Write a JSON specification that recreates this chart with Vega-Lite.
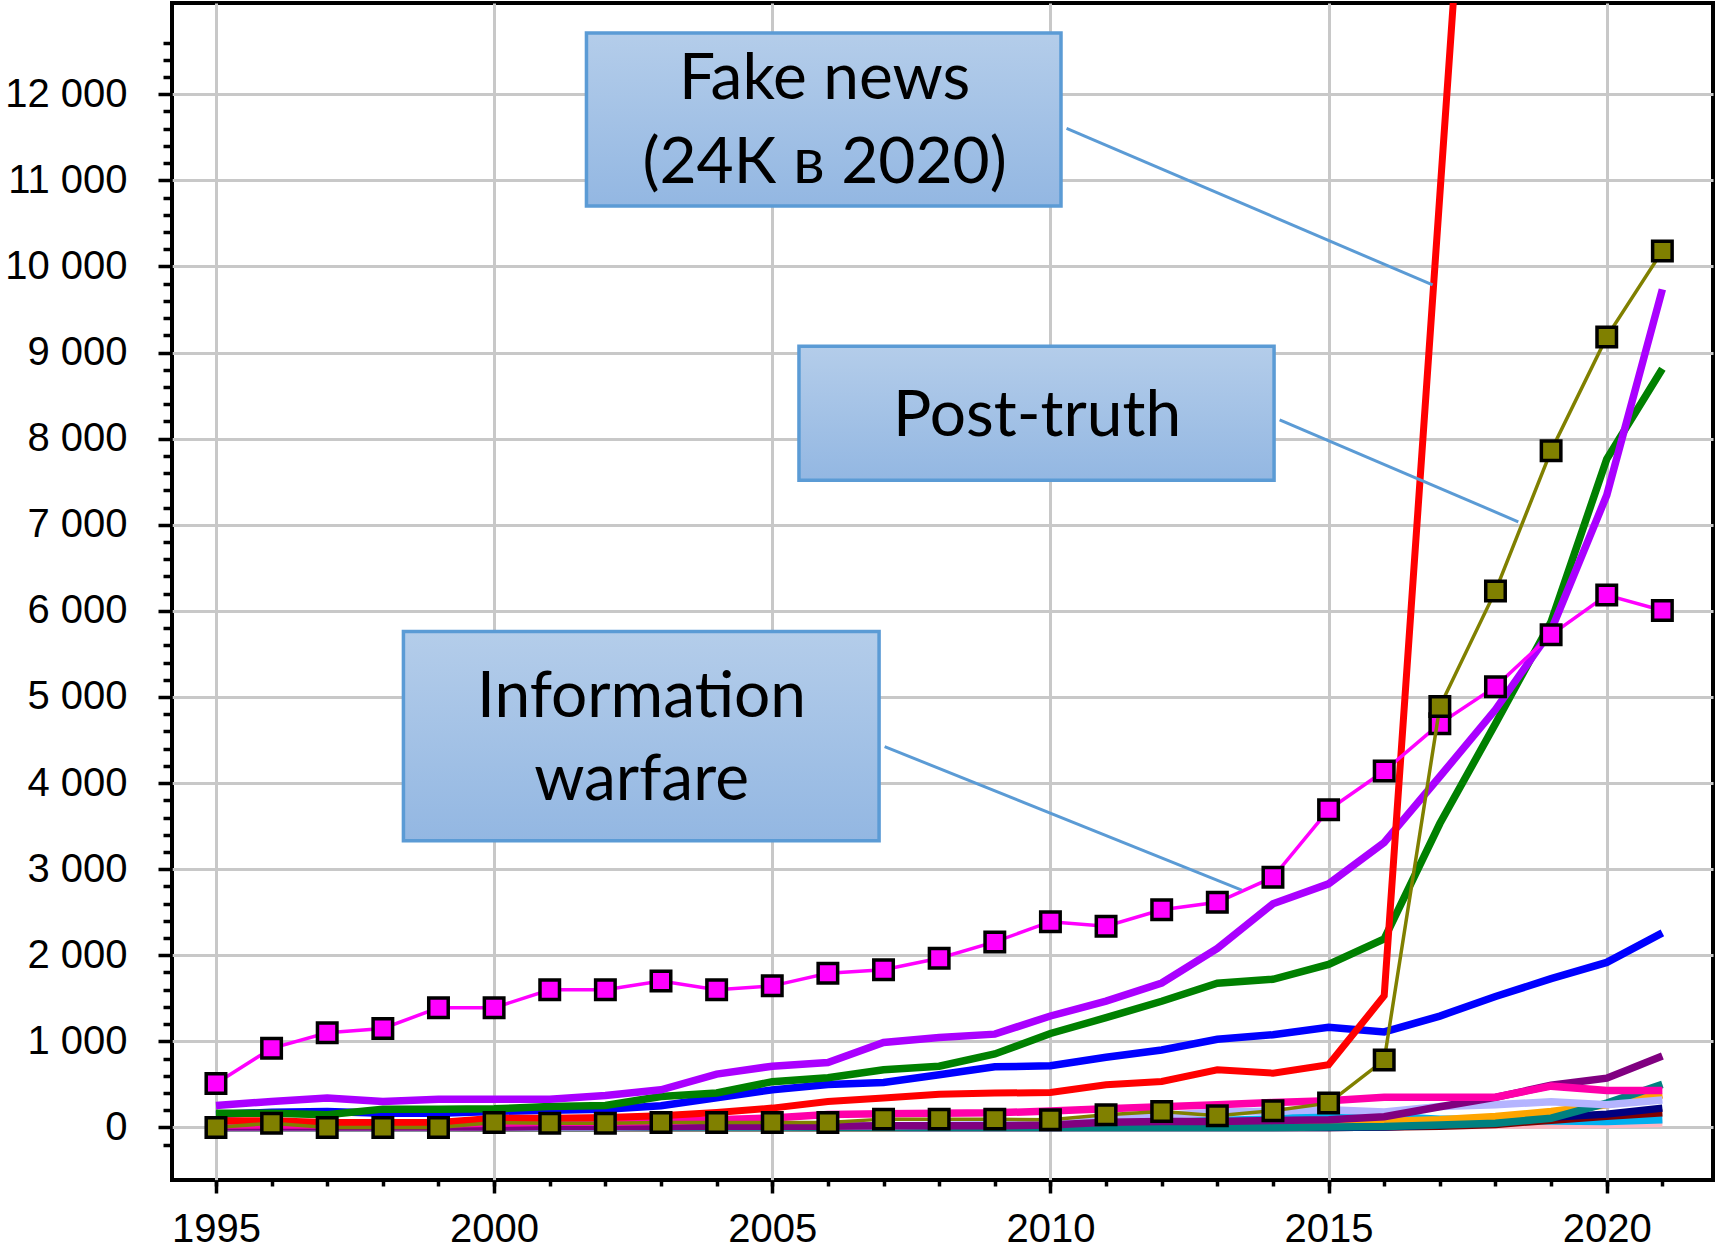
{
  "$schema": "https://vega.github.io/schema/vega-lite/v6.json",
  "width": 1541,
  "height": 1177,
  "autosize": {"type": "none"},
  "padding": {"left": 172, "top": 3, "right": 6, "bottom": 73},
  "background": "white",
  "config": {"view": {"stroke": "black", "strokeWidth": 4}},
  "datasets": {
    "lines": [
      {"s":"t01","year":1995,"v":0},{"s":"t01","year":1996,"v":0},{"s":"t01","year":1997,"v":0},{"s":"t01","year":1998,"v":0},{"s":"t01","year":1999,"v":0},{"s":"t01","year":2000,"v":0},{"s":"t01","year":2001,"v":0},{"s":"t01","year":2002,"v":0},{"s":"t01","year":2003,"v":0},{"s":"t01","year":2004,"v":0},{"s":"t01","year":2005,"v":0},{"s":"t01","year":2006,"v":0},{"s":"t01","year":2007,"v":0},{"s":"t01","year":2008,"v":0},{"s":"t01","year":2009,"v":0},{"s":"t01","year":2010,"v":0},{"s":"t01","year":2011,"v":5},{"s":"t01","year":2012,"v":5},{"s":"t01","year":2013,"v":10},{"s":"t01","year":2014,"v":10},{"s":"t01","year":2015,"v":10},{"s":"t01","year":2016,"v":15},{"s":"t01","year":2017,"v":20},{"s":"t01","year":2018,"v":25},{"s":"t01","year":2019,"v":30},{"s":"t01","year":2020,"v":35},{"s":"t01","year":2021,"v":50},
      {"s":"t02","year":1995,"v":0},{"s":"t02","year":1996,"v":0},{"s":"t02","year":1997,"v":0},{"s":"t02","year":1998,"v":0},{"s":"t02","year":1999,"v":0},{"s":"t02","year":2000,"v":0},{"s":"t02","year":2001,"v":0},{"s":"t02","year":2002,"v":0},{"s":"t02","year":2003,"v":5},{"s":"t02","year":2004,"v":5},{"s":"t02","year":2005,"v":10},{"s":"t02","year":2006,"v":10},{"s":"t02","year":2007,"v":15},{"s":"t02","year":2008,"v":20},{"s":"t02","year":2009,"v":20},{"s":"t02","year":2010,"v":25},{"s":"t02","year":2011,"v":40},{"s":"t02","year":2012,"v":60},{"s":"t02","year":2013,"v":80},{"s":"t02","year":2014,"v":100},{"s":"t02","year":2015,"v":140},{"s":"t02","year":2016,"v":130},{"s":"t02","year":2017,"v":95},{"s":"t02","year":2018,"v":95},{"s":"t02","year":2019,"v":75},{"s":"t02","year":2020,"v":70},{"s":"t02","year":2021,"v":90},
      {"s":"t03","year":1995,"v":0},{"s":"t03","year":1996,"v":0},{"s":"t03","year":1997,"v":0},{"s":"t03","year":1998,"v":0},{"s":"t03","year":1999,"v":0},{"s":"t03","year":2000,"v":0},{"s":"t03","year":2001,"v":0},{"s":"t03","year":2002,"v":0},{"s":"t03","year":2003,"v":0},{"s":"t03","year":2004,"v":0},{"s":"t03","year":2005,"v":0},{"s":"t03","year":2006,"v":0},{"s":"t03","year":2007,"v":0},{"s":"t03","year":2008,"v":0},{"s":"t03","year":2009,"v":0},{"s":"t03","year":2010,"v":0},{"s":"t03","year":2011,"v":0},{"s":"t03","year":2012,"v":0},{"s":"t03","year":2013,"v":0},{"s":"t03","year":2014,"v":0},{"s":"t03","year":2015,"v":0},{"s":"t03","year":2016,"v":5},{"s":"t03","year":2017,"v":15},{"s":"t03","year":2018,"v":35},{"s":"t03","year":2019,"v":85},{"s":"t03","year":2020,"v":130},{"s":"t03","year":2021,"v":170},
      {"s":"t04","year":1995,"v":0},{"s":"t04","year":1996,"v":0},{"s":"t04","year":1997,"v":0},{"s":"t04","year":1998,"v":0},{"s":"t04","year":1999,"v":0},{"s":"t04","year":2000,"v":0},{"s":"t04","year":2001,"v":0},{"s":"t04","year":2002,"v":0},{"s":"t04","year":2003,"v":0},{"s":"t04","year":2004,"v":0},{"s":"t04","year":2005,"v":0},{"s":"t04","year":2006,"v":0},{"s":"t04","year":2007,"v":0},{"s":"t04","year":2008,"v":0},{"s":"t04","year":2009,"v":0},{"s":"t04","year":2010,"v":0},{"s":"t04","year":2011,"v":0},{"s":"t04","year":2012,"v":0},{"s":"t04","year":2013,"v":0},{"s":"t04","year":2014,"v":0},{"s":"t04","year":2015,"v":0},{"s":"t04","year":2016,"v":5},{"s":"t04","year":2017,"v":30},{"s":"t04","year":2018,"v":80},{"s":"t04","year":2019,"v":120},{"s":"t04","year":2020,"v":155},{"s":"t04","year":2021,"v":225},
      {"s":"t05","year":1995,"v":0},{"s":"t05","year":1996,"v":0},{"s":"t05","year":1997,"v":0},{"s":"t05","year":1998,"v":0},{"s":"t05","year":1999,"v":0},{"s":"t05","year":2000,"v":0},{"s":"t05","year":2001,"v":0},{"s":"t05","year":2002,"v":0},{"s":"t05","year":2003,"v":0},{"s":"t05","year":2004,"v":0},{"s":"t05","year":2005,"v":0},{"s":"t05","year":2006,"v":0},{"s":"t05","year":2007,"v":0},{"s":"t05","year":2008,"v":5},{"s":"t05","year":2009,"v":5},{"s":"t05","year":2010,"v":10},{"s":"t05","year":2011,"v":15},{"s":"t05","year":2012,"v":20},{"s":"t05","year":2013,"v":25},{"s":"t05","year":2014,"v":30},{"s":"t05","year":2015,"v":50},{"s":"t05","year":2016,"v":70},{"s":"t05","year":2017,"v":90},{"s":"t05","year":2018,"v":128},{"s":"t05","year":2019,"v":186},{"s":"t05","year":2020,"v":263},{"s":"t05","year":2021,"v":380},
      {"s":"t06","year":1995,"v":0},{"s":"t06","year":1996,"v":0},{"s":"t06","year":1997,"v":0},{"s":"t06","year":1998,"v":0},{"s":"t06","year":1999,"v":0},{"s":"t06","year":2000,"v":0},{"s":"t06","year":2001,"v":0},{"s":"t06","year":2002,"v":0},{"s":"t06","year":2003,"v":0},{"s":"t06","year":2004,"v":0},{"s":"t06","year":2005,"v":0},{"s":"t06","year":2006,"v":0},{"s":"t06","year":2007,"v":0},{"s":"t06","year":2008,"v":0},{"s":"t06","year":2009,"v":0},{"s":"t06","year":2010,"v":0},{"s":"t06","year":2011,"v":0},{"s":"t06","year":2012,"v":0},{"s":"t06","year":2013,"v":0},{"s":"t06","year":2014,"v":0},{"s":"t06","year":2015,"v":5},{"s":"t06","year":2016,"v":10},{"s":"t06","year":2017,"v":30},{"s":"t06","year":2018,"v":50},{"s":"t06","year":2019,"v":108},{"s":"t06","year":2020,"v":283},{"s":"t06","year":2021,"v":500},
      {"s":"t07","year":1995,"v":0},{"s":"t07","year":1996,"v":0},{"s":"t07","year":1997,"v":0},{"s":"t07","year":1998,"v":0},{"s":"t07","year":1999,"v":0},{"s":"t07","year":2000,"v":5},{"s":"t07","year":2001,"v":5},{"s":"t07","year":2002,"v":5},{"s":"t07","year":2003,"v":10},{"s":"t07","year":2004,"v":10},{"s":"t07","year":2005,"v":10},{"s":"t07","year":2006,"v":15},{"s":"t07","year":2007,"v":20},{"s":"t07","year":2008,"v":25},{"s":"t07","year":2009,"v":35},{"s":"t07","year":2010,"v":50},{"s":"t07","year":2011,"v":90},{"s":"t07","year":2012,"v":140},{"s":"t07","year":2013,"v":180},{"s":"t07","year":2014,"v":190},{"s":"t07","year":2015,"v":205},{"s":"t07","year":2016,"v":180},{"s":"t07","year":2017,"v":244},{"s":"t07","year":2018,"v":263},{"s":"t07","year":2019,"v":300},{"s":"t07","year":2020,"v":263},{"s":"t07","year":2021,"v":320},
      {"s":"t08","year":1995,"v":5},{"s":"t08","year":1996,"v":5},{"s":"t08","year":1997,"v":5},{"s":"t08","year":1998,"v":5},{"s":"t08","year":1999,"v":5},{"s":"t08","year":2000,"v":5},{"s":"t08","year":2001,"v":10},{"s":"t08","year":2002,"v":10},{"s":"t08","year":2003,"v":10},{"s":"t08","year":2004,"v":15},{"s":"t08","year":2005,"v":15},{"s":"t08","year":2006,"v":15},{"s":"t08","year":2007,"v":20},{"s":"t08","year":2008,"v":20},{"s":"t08","year":2009,"v":20},{"s":"t08","year":2010,"v":30},{"s":"t08","year":2011,"v":60},{"s":"t08","year":2012,"v":70},{"s":"t08","year":2013,"v":70},{"s":"t08","year":2014,"v":80},{"s":"t08","year":2015,"v":90},{"s":"t08","year":2016,"v":125},{"s":"t08","year":2017,"v":240},{"s":"t08","year":2018,"v":350},{"s":"t08","year":2019,"v":490},{"s":"t08","year":2020,"v":573},{"s":"t08","year":2021,"v":830},
      {"s":"t09","year":1995,"v":30},{"s":"t09","year":1996,"v":30},{"s":"t09","year":1997,"v":30},{"s":"t09","year":1998,"v":40},{"s":"t09","year":1999,"v":40},{"s":"t09","year":2000,"v":50},{"s":"t09","year":2001,"v":60},{"s":"t09","year":2002,"v":60},{"s":"t09","year":2003,"v":70},{"s":"t09","year":2004,"v":90},{"s":"t09","year":2005,"v":110},{"s":"t09","year":2006,"v":150},{"s":"t09","year":2007,"v":160},{"s":"t09","year":2008,"v":165},{"s":"t09","year":2009,"v":170},{"s":"t09","year":2010,"v":190},{"s":"t09","year":2011,"v":217},{"s":"t09","year":2012,"v":240},{"s":"t09","year":2013,"v":263},{"s":"t09","year":2014,"v":290},{"s":"t09","year":2015,"v":310},{"s":"t09","year":2016,"v":350},{"s":"t09","year":2017,"v":352},{"s":"t09","year":2018,"v":352},{"s":"t09","year":2019,"v":480},{"s":"t09","year":2020,"v":430},{"s":"t09","year":2021,"v":430},
      {"s":"t10","year":1995,"v":150},{"s":"t10","year":1996,"v":178},{"s":"t10","year":1997,"v":186},{"s":"t10","year":1998,"v":166},{"s":"t10","year":1999,"v":166},{"s":"t10","year":2000,"v":186},{"s":"t10","year":2001,"v":200},{"s":"t10","year":2002,"v":213},{"s":"t10","year":2003,"v":252},{"s":"t10","year":2004,"v":345},{"s":"t10","year":2005,"v":437},{"s":"t10","year":2006,"v":500},{"s":"t10","year":2007,"v":523},{"s":"t10","year":2008,"v":612},{"s":"t10","year":2009,"v":705},{"s":"t10","year":2010,"v":716},{"s":"t10","year":2011,"v":815},{"s":"t10","year":2012,"v":900},{"s":"t10","year":2013,"v":1025},{"s":"t10","year":2014,"v":1077},{"s":"t10","year":2015,"v":1165},{"s":"t10","year":2016,"v":1110},{"s":"t10","year":2017,"v":1294},{"s":"t10","year":2018,"v":1521},{"s":"t10","year":2019,"v":1728},{"s":"t10","year":2020,"v":1917},{"s":"t10","year":2021,"v":2260},
      {"s":"t11","year":1995,"v":166},{"s":"t11","year":1996,"v":166},{"s":"t11","year":1997,"v":147},{"s":"t11","year":1998,"v":213},{"s":"t11","year":1999,"v":213},{"s":"t11","year":2000,"v":217},{"s":"t11","year":2001,"v":244},{"s":"t11","year":2002,"v":255},{"s":"t11","year":2003,"v":360},{"s":"t11","year":2004,"v":400},{"s":"t11","year":2005,"v":532},{"s":"t11","year":2006,"v":578},{"s":"t11","year":2007,"v":670},{"s":"t11","year":2008,"v":712},{"s":"t11","year":2009,"v":854},{"s":"t11","year":2010,"v":1092},{"s":"t11","year":2011,"v":1275},{"s":"t11","year":2012,"v":1466},{"s":"t11","year":2013,"v":1676},{"s":"t11","year":2014,"v":1721},{"s":"t11","year":2015,"v":1893},{"s":"t11","year":2016,"v":2190},{"s":"t11","year":2017,"v":3530},{"s":"t11","year":2018,"v":4690},{"s":"t11","year":2019,"v":5873},{"s":"t11","year":2020,"v":7763},{"s":"t11","year":2021,"v":8812},
      {"s":"t12","year":1995,"v":255},{"s":"t12","year":1996,"v":302},{"s":"t12","year":1997,"v":341},{"s":"t12","year":1998,"v":302},{"s":"t12","year":1999,"v":329},{"s":"t12","year":2000,"v":329},{"s":"t12","year":2001,"v":329},{"s":"t12","year":2002,"v":372},{"s":"t12","year":2003,"v":437},{"s":"t12","year":2004,"v":620},{"s":"t12","year":2005,"v":712},{"s":"t12","year":2006,"v":755},{"s":"t12","year":2007,"v":988},{"s":"t12","year":2008,"v":1046},{"s":"t12","year":2009,"v":1084},{"s":"t12","year":2010,"v":1295},{"s":"t12","year":2011,"v":1467},{"s":"t12","year":2012,"v":1678},{"s":"t12","year":2013,"v":2080},{"s":"t12","year":2014,"v":2598},{"s":"t12","year":2015,"v":2830},{"s":"t12","year":2016,"v":3310},{"s":"t12","year":2017,"v":4076},{"s":"t12","year":2018,"v":4854},{"s":"t12","year":2019,"v":5774},{"s":"t12","year":2020,"v":7343},{"s":"t12","year":2021,"v":9734},
      {"s":"Fake news","year":1995,"v":77},{"s":"Fake news","year":1996,"v":77},{"s":"Fake news","year":1997,"v":58},{"s":"Fake news","year":1998,"v":58},{"s":"Fake news","year":1999,"v":58},{"s":"Fake news","year":2000,"v":108},{"s":"Fake news","year":2001,"v":108},{"s":"Fake news","year":2002,"v":115},{"s":"Fake news","year":2003,"v":135},{"s":"Fake news","year":2004,"v":174},{"s":"Fake news","year":2005,"v":225},{"s":"Fake news","year":2006,"v":302},{"s":"Fake news","year":2007,"v":341},{"s":"Fake news","year":2008,"v":387},{"s":"Fake news","year":2009,"v":399},{"s":"Fake news","year":2010,"v":406},{"s":"Fake news","year":2011,"v":495},{"s":"Fake news","year":2012,"v":534},{"s":"Fake news","year":2013,"v":670},{"s":"Fake news","year":2014,"v":631},{"s":"Fake news","year":2015,"v":728},{"s":"Fake news","year":2016,"v":1530},{"s":"Fake news","year":2017,"v":10830},{"s":"Fake news","year":2018,"v":20100},{"s":"Fake news","year":2019,"v":22500},{"s":"Fake news","year":2020,"v":24000},{"s":"Fake news","year":2021,"v":24500},
      {"s":"Information warfare","year":1995,"v":510},{"s":"Information warfare","year":1996,"v":920},{"s":"Information warfare","year":1997,"v":1100},{"s":"Information warfare","year":1998,"v":1150},{"s":"Information warfare","year":1999,"v":1390},{"s":"Information warfare","year":2000,"v":1390},{"s":"Information warfare","year":2001,"v":1600},{"s":"Information warfare","year":2002,"v":1600},{"s":"Information warfare","year":2003,"v":1700},{"s":"Information warfare","year":2004,"v":1600},{"s":"Information warfare","year":2005,"v":1645},{"s":"Information warfare","year":2006,"v":1790},{"s":"Information warfare","year":2007,"v":1831},{"s":"Information warfare","year":2008,"v":1965},{"s":"Information warfare","year":2009,"v":2155},{"s":"Information warfare","year":2010,"v":2390},{"s":"Information warfare","year":2011,"v":2337},{"s":"Information warfare","year":2012,"v":2528},{"s":"Information warfare","year":2013,"v":2615},{"s":"Information warfare","year":2014,"v":2905},{"s":"Information warfare","year":2015,"v":3690},{"s":"Information warfare","year":2016,"v":4140},{"s":"Information warfare","year":2017,"v":4690},{"s":"Information warfare","year":2018,"v":5120},{"s":"Information warfare","year":2019,"v":5722},{"s":"Information warfare","year":2020,"v":6183},{"s":"Information warfare","year":2021,"v":6004},
      {"s":"Post-truth","year":1995,"v":0},{"s":"Post-truth","year":1996,"v":50},{"s":"Post-truth","year":1997,"v":0},{"s":"Post-truth","year":1998,"v":0},{"s":"Post-truth","year":1999,"v":0},{"s":"Post-truth","year":2000,"v":58},{"s":"Post-truth","year":2001,"v":50},{"s":"Post-truth","year":2002,"v":50},{"s":"Post-truth","year":2003,"v":58},{"s":"Post-truth","year":2004,"v":58},{"s":"Post-truth","year":2005,"v":58},{"s":"Post-truth","year":2006,"v":58},{"s":"Post-truth","year":2007,"v":97},{"s":"Post-truth","year":2008,"v":97},{"s":"Post-truth","year":2009,"v":97},{"s":"Post-truth","year":2010,"v":89},{"s":"Post-truth","year":2011,"v":147},{"s":"Post-truth","year":2012,"v":186},{"s":"Post-truth","year":2013,"v":135},{"s":"Post-truth","year":2014,"v":194},{"s":"Post-truth","year":2015,"v":283},{"s":"Post-truth","year":2016,"v":783},{"s":"Post-truth","year":2017,"v":4890},{"s":"Post-truth","year":2018,"v":6232},{"s":"Post-truth","year":2019,"v":7860},{"s":"Post-truth","year":2020,"v":9182},{"s":"Post-truth","year":2021,"v":10180}
    ],
    "boxes": [
      {"bx1":2001.66,"bx2":2010.19,"by1":10702,"by2":12713},
      {"bx1":2005.48,"bx2":2014.02,"by1":7518,"by2":9072},
      {"bx1":1998.37,"bx2":2006.92,"by1":3329,"by2":5761}
    ],
    "texts": [
      {"tx":2005.94,"ty":12166,"t":"Fake news"},
      {"tx":2005.94,"ty":11186,"t":"(24К в 2020)"},
      {"tx":2009.76,"ty":8257,"t":"Post-truth"},
      {"tx":2002.65,"ty":4985,"t":"Information"},
      {"tx":2002.65,"ty":4029,"t":"warfare"}
    ],
    "links": [
      {"lx1":2010.29,"ly1":11605,"lx2":2016.87,"ly2":9785},
      {"lx1":2014.12,"ly1":8218,"lx2":2018.41,"ly2":7035},
      {"lx1":2007.02,"ly1":4424,"lx2":2013.44,"ly2":2756}
    ]
  },
  "resolve": {"axis": {"x": "independent", "y": "independent"}},
  "layer": [
    {
      "data": {"name": "lines"},
      "transform": [{"filter": {"field": "s", "oneOf": ["t01","t02","t03","t04","t05","t06","t07","t08","t09","t10","t11","t12"]}}],
      "mark": {"type": "line", "strokeWidth": 7.5, "clip": true},
      "encoding": {
        "x": {"field": "year", "type": "quantitative",
              "scale": {"domain": [1994.21, 2021.91], "nice": false, "zero": false},
              "axis": {"orient": "bottom", "title": null, "values": [1995,1996,1997,1998,1999,2000,2001,2002,2003,2004,2005,2006,2007,2008,2009,2010,2011,2012,2013,2014,2015,2016,2017,2018,2019,2020,2021],
                       "labels": false, "grid": false, "domain": false, "ticks": true, "tickSize": 6, "tickWidth": 3.5, "tickColor": "black"}},
        "y": {"field": "v", "type": "quantitative",
              "scale": {"domain": [-610, 13060], "nice": false, "zero": false},
              "axis": {"orient": "left", "title": null, "values": [-200,200,400,600,800,1200,1400,1600,1800,2200,2400,2600,2800,3200,3400,3600,3800,4200,4400,4600,4800,5200,5400,5600,5800,6200,6400,6600,6800,7200,7400,7600,7800,8200,8400,8600,8800,9200,9400,9600,9800,10200,10400,10600,10800,11200,11400,11600,11800,12200,12400,12600],
                       "labels": false, "grid": false, "domain": false, "ticks": true, "tickSize": 9, "tickWidth": 3.5, "tickColor": "black"}},
        "color": {"field": "s", "type": "nominal", "legend": null,
                  "scale": {"domain": ["t01","t02","t03","t04","t05","t06","t07","t08","t09","t10","t11","t12"],
                            "range": ["#ffb6c1","#00b0f0","#800000","#000080","#ffa500","#008080","#b4b4ff","#800080","#ff00aa","#0000ff","#008000","#aa00ff"]}}
      }
    },
    {
      "data": {"name": "lines"},
      "transform": [{"filter": {"field": "s", "equal": "Fake news"}}],
      "mark": {"type": "line", "strokeWidth": 7, "color": "#ff0000", "clip": true},
      "encoding": {
        "x": {"field": "year", "type": "quantitative",
              "axis": {"orient": "bottom", "title": null, "values": [1995,2000,2005,2010,2015,2020], "format": "d",
                       "labels": true, "labelFont": "Liberation Sans", "labelFontSize": 40, "labelColor": "black", "labelPadding": 16,
                       "grid": true, "gridColor": "#c8c8c8", "gridWidth": 3, "domain": false, "ticks": true, "tickSize": 13, "tickWidth": 3.5, "tickColor": "black"}},
        "y": {"field": "v", "type": "quantitative",
              "axis": {"orient": "left", "title": null, "values": [0,1000,2000,3000,4000,5000,6000,7000,8000,9000,10000,11000,12000],
                       "labelExpr": "replace(format(datum.value, ','), ',', ' ')",
                       "labels": true, "labelFont": "Liberation Sans", "labelFontSize": 40, "labelColor": "black", "labelPadding": 31,
                       "grid": true, "gridColor": "#c8c8c8", "gridWidth": 3, "domain": false, "ticks": true, "tickSize": 14, "tickWidth": 3.5, "tickColor": "black"}}
      }
    },
    {
      "data": {"name": "lines"},
      "transform": [{"filter": {"field": "s", "equal": "Information warfare"}}],
      "mark": {"type": "line", "strokeWidth": 3.5, "color": "#ff00ff"},
      "encoding": {
        "x": {"field": "year", "type": "quantitative", "axis": null},
        "y": {"field": "v", "type": "quantitative", "axis": null}
      }
    },
    {
      "data": {"name": "lines"},
      "transform": [{"filter": {"field": "s", "equal": "Information warfare"}}],
      "mark": {"type": "point", "shape": "square", "filled": true, "size": 380, "fill": "#ff00ff", "stroke": "black", "strokeWidth": 3.5, "opacity": 1},
      "encoding": {
        "x": {"field": "year", "type": "quantitative", "axis": null},
        "y": {"field": "v", "type": "quantitative", "axis": null}
      }
    },
    {
      "data": {"name": "lines"},
      "transform": [{"filter": {"field": "s", "equal": "Post-truth"}}],
      "mark": {"type": "line", "strokeWidth": 3.5, "color": "#808000"},
      "encoding": {
        "x": {"field": "year", "type": "quantitative", "axis": null},
        "y": {"field": "v", "type": "quantitative", "axis": null}
      }
    },
    {
      "data": {"name": "lines"},
      "transform": [{"filter": {"field": "s", "equal": "Post-truth"}}],
      "mark": {"type": "point", "shape": "square", "filled": true, "size": 380, "fill": "#808000", "stroke": "black", "strokeWidth": 3.5, "opacity": 1},
      "encoding": {
        "x": {"field": "year", "type": "quantitative", "axis": null},
        "y": {"field": "v", "type": "quantitative", "axis": null}
      }
    },
    {
      "data": {"name": "links"},
      "mark": {"type": "rule", "color": "#5b9bd5", "strokeWidth": 3},
      "encoding": {
        "x": {"field": "lx1", "type": "quantitative", "axis": null},
        "y": {"field": "ly1", "type": "quantitative", "axis": null},
        "x2": {"field": "lx2"},
        "y2": {"field": "ly2"}
      }
    },
    {
      "data": {"name": "boxes"},
      "mark": {"type": "rect", "stroke": "#5b9bd5", "strokeWidth": 3.5,
               "fill": {"gradient": "linear", "x1": 0, "y1": 0, "x2": 0, "y2": 1,
                        "stops": [{"offset": 0, "color": "#b4cdea"}, {"offset": 1, "color": "#93b7e2"}]}},
      "encoding": {
        "x": {"field": "bx1", "type": "quantitative", "axis": null},
        "x2": {"field": "bx2"},
        "y": {"field": "by1", "type": "quantitative", "axis": null},
        "y2": {"field": "by2"}
      }
    },
    {
      "data": {"name": "texts"},
      "mark": {"type": "text", "font": "Lato", "fontSize": 64, "color": "black", "align": "center", "baseline": "middle"},
      "encoding": {
        "x": {"field": "tx", "type": "quantitative", "axis": null},
        "y": {"field": "ty", "type": "quantitative", "axis": null},
        "text": {"field": "t"}
      }
    }
  ]
}
